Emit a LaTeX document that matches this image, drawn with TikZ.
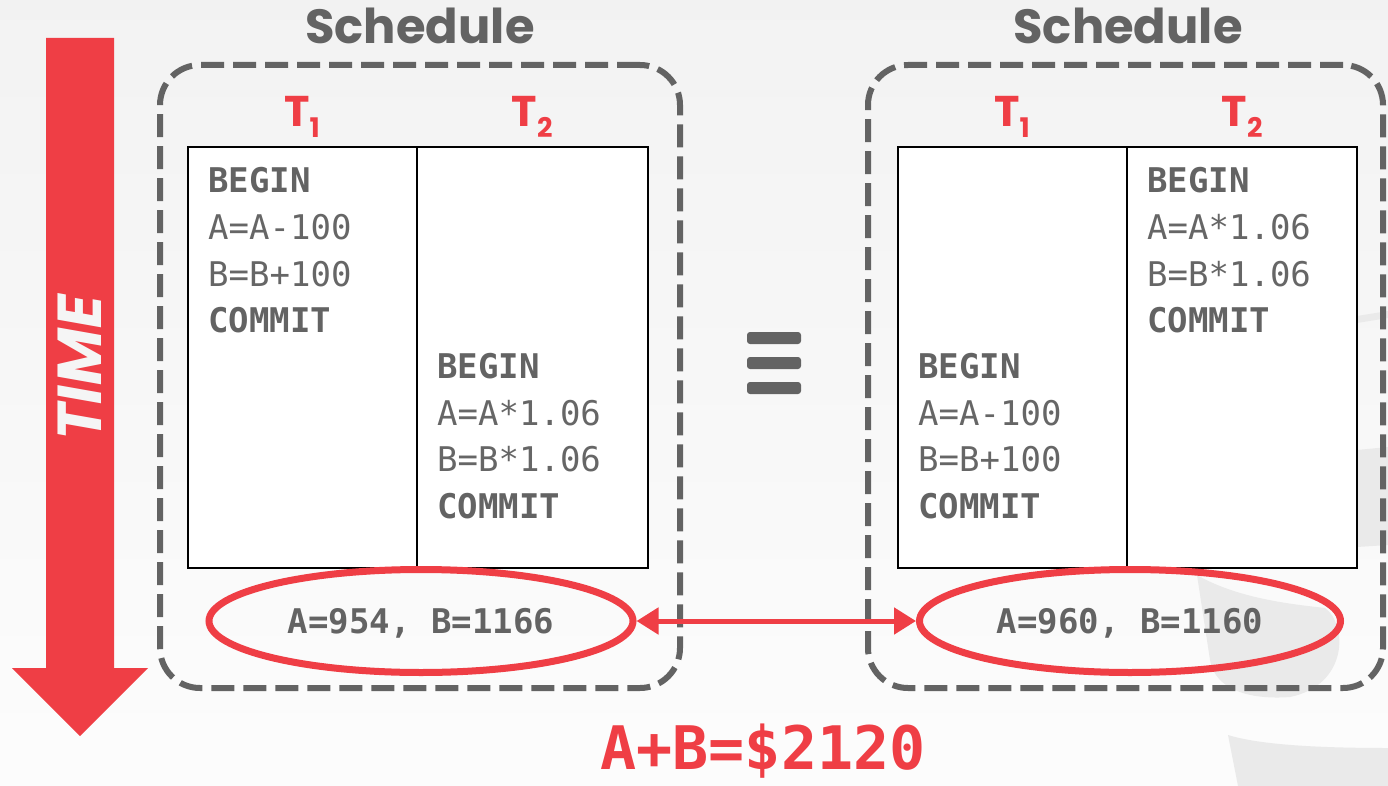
\documentclass[tikz,border=0pt]{standalone}
\usepackage{fontspec}
\usetikzlibrary{arrows.meta,shapes.geometric}
\newfontfamily\codefont{DejaVu Sans Mono}
\newfontfamily\headfont{Poppins}
\definecolor{dbred}{HTML}{EF3E45}
\definecolor{dbgray}{HTML}{636363}
\definecolor{codegray}{HTML}{666666}
\definecolor{wm}{HTML}{EAEAEA}
\begin{document}
\begin{tikzpicture}[x=1pt,y=-1pt,
  code/.style={anchor=base west, inner sep=0pt, text=codegray,
    font=\codefont\fontsize{34}{34}\selectfont},
  kw/.style={anchor=base west, inner sep=0pt, text=dbgray,
    font=\codefont\bfseries\fontsize{34}{34}\selectfont},
  schedbox/.style={draw=dbgray, line width=6pt, dash pattern=on 23pt off 9pt,
    rounded corners=40pt, inner sep=0pt},
  cell/.style={draw=black, line width=1.6pt, fill=white, inner sep=0pt,
    minimum height=421pt},
  title/.style={anchor=base, inner sep=0pt, text=dbgray,
    font=\headfont\bfseries\fontsize{48}{48}\selectfont},
  tlabel/.style={anchor=base, inner sep=0pt, text=dbred,
    font=\headfont\bfseries\fontsize{43}{43}\selectfont},
  result/.style={ellipse, draw=dbred, line width=7pt, inner sep=0pt,
    minimum height=103pt, text=dbgray, text height=24.8pt, text depth=0pt,
    font=\codefont\bfseries\fontsize{34}{34}\selectfont},
  bar/.style={fill=dbgray, rounded corners=3pt},
]
\useasboundingbox (0,0) rectangle (1388,786);
% background
\fill[top color=black!5, bottom color=black!1] (0,0) rectangle (1388,786);
% faint watermark
\fill[wm] (1197,575) .. controls (1240,600) and (1300,605) .. (1325,608)
  .. controls (1348,625) and (1348,685) .. (1290,697)
  .. controls (1250,700) and (1215,690) .. (1210,660) -- cycle;
\fill[wm] (1228,735) .. controls (1260,745) and (1320,748) .. (1388,748)
  -- (1388,786) -- (1238,786) -- cycle;
\fill[wm] (1357,450) -- (1388,447) -- (1388,545) -- (1357,547) -- cycle;
\fill[wm] (1357,316) -- (1388,311) -- (1388,318) -- (1357,323) -- cycle;

% TIME arrow
\fill[dbred] (46,38) -- (114,38) -- (114,668) -- (148,668) -- (80,736)
  -- (12,668) -- (46,668) -- cycle;
\node[rotate=90, inner sep=0pt, text=black!4,
  font=\headfont\bfseries\itshape\fontsize{62}{62}\selectfont] (time) at (80,368) {TIME};

% ===== left schedule =====
\node[schedbox, minimum width=520pt, minimum height=623pt] (box1) at (420,376.5) {};
\node[title] (sch1) at (420,44) {Schedule};
\node[tlabel] (t11) at (302,127) {T\raisebox{-11pt}{\fontsize{27}{27}\selectfont 1}};
\node[tlabel] (t12) at (532,127) {T\raisebox{-11pt}{\fontsize{27}{27}\selectfont 2}};
\node[cell, minimum width=229pt] (c11) at (302.5,357.5) {};
\node[cell, minimum width=231pt] (c12) at (532.5,357.5) {};
\node[kw]   (a1) at (208,193)   {BEGIN};
\node[code] (a2) at (208,239.5) {A=A-100};
\node[code] (a3) at (208,286)   {B=B+100};
\node[kw]   (a4) at (208,332.5) {COMMIT};
\node[kw]   (b1) at (437,378.5) {BEGIN};
\node[code] (b2) at (437,425)   {A=A*1.06};
\node[code] (b3) at (437,471.5) {B=B*1.06};
\node[kw]   (b4) at (437,518)   {COMMIT};
\node[result, minimum width=424pt] (e1) at (421,621) {A=954, B=1166};

% ===== right schedule =====
\node[schedbox, minimum width=515pt, minimum height=623pt] (box2) at (1125.5,376.5) {};
\node[title] (sch2) at (1128,44) {Schedule};
\node[tlabel] (t21) at (1012,127) {T\raisebox{-11pt}{\fontsize{27}{27}\selectfont 1}};
\node[tlabel] (t22) at (1242,127) {T\raisebox{-11pt}{\fontsize{27}{27}\selectfont 2}};
\node[cell, minimum width=229pt] (c21) at (1012.5,357.5) {};
\node[cell, minimum width=230pt] (c22) at (1242,357.5) {};
\node[kw]   (d1) at (1147,193)   {BEGIN};
\node[code] (d2) at (1147,239.5) {A=A*1.06};
\node[code] (d3) at (1147,286)   {B=B*1.06};
\node[kw]   (d4) at (1147,332.5) {COMMIT};
\node[kw]   (f1) at (918,378.5) {BEGIN};
\node[code] (f2) at (918,425)   {A=A-100};
\node[code] (f3) at (918,471.5) {B=B+100};
\node[kw]   (f4) at (918,518)   {COMMIT};
\node[result, minimum width=421pt] (e2) at (1130,621) {A=960, B=1160};

% equivalence sign
\fill[bar] (747,332) rectangle (801,344);
\fill[bar] (747,357) rectangle (801,369);
\fill[bar] (747,382) rectangle (801,394);

% double arrow between results
\draw[dbred, line width=5pt,
  {Triangle[length=22pt,width=26pt]}-{Triangle[length=22pt,width=26pt]}]
  (e1.east) -- (e2.west);

% sum
\node[anchor=base, inner sep=0pt, text=dbred,
  font=\codefont\bfseries\fontsize{60}{60}\selectfont] (sum) at (763,769) {A+B=\$2120};
\end{tikzpicture}
\end{document}
